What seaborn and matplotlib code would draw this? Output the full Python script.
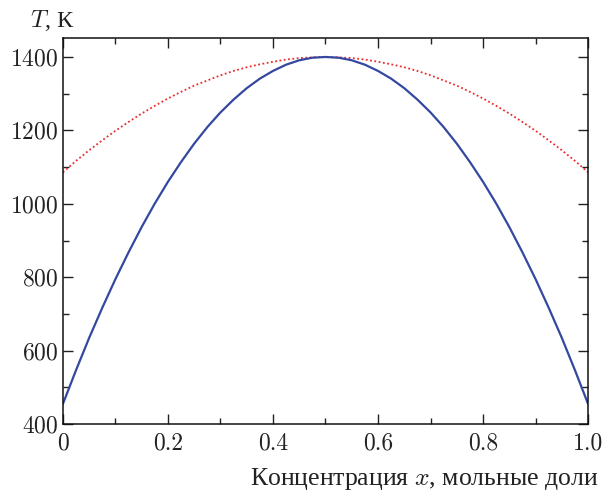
import numpy as np
import pandas as pd
import matplotlib
matplotlib.use("Agg")
import matplotlib.pyplot as plt
import seaborn as sns
from matplotlib.ticker import MultipleLocator

sns.set_style("ticks")
plt.rcParams['font.family'] = ['cmr10', 'Liberation Serif']
plt.rcParams['mathtext.fontset'] = 'cm'
plt.rcParams['axes.formatter.use_mathtext'] = True

x = [0.0, 0.025, 0.05, 0.075, 0.1, 0.125, 0.15, 0.175, 0.2, 0.225, 0.25,
     0.275, 0.3, 0.325, 0.35, 0.375, 0.4, 0.425, 0.45, 0.475, 0.5,
     0.525, 0.55, 0.575, 0.6, 0.625, 0.65, 0.675, 0.7, 0.725, 0.75,
     0.775, 0.8, 0.825, 0.85, 0.875, 0.9, 0.925, 0.95, 0.975, 1.0]
spinodal = [455, 547, 635, 717, 795, 868, 937, 1001, 1060, 1114, 1164,
            1209, 1249, 1284, 1315, 1341, 1362, 1379, 1391, 1398, 1400,
            1398, 1391, 1379, 1362, 1341, 1315, 1284, 1249, 1209, 1164,
            1114, 1060, 1001, 937, 868, 795, 717, 635, 547, 455]
binodal = [1086, 1117, 1146, 1173, 1199, 1223, 1246, 1267, 1287, 1305, 1322,
           1336, 1350, 1362, 1372, 1380, 1387, 1393, 1397, 1399, 1400,
           1399, 1397, 1393, 1387, 1380, 1372, 1362, 1350, 1336, 1322,
           1305, 1287, 1267, 1246, 1223, 1199, 1173, 1146, 1117, 1086]

df = pd.DataFrame({'x': x, 'spinodal': spinodal, 'binodal': binodal})

fig = plt.figure(figsize=(6.05, 4.92), dpi=100)
ax = fig.add_axes([0.104, 0.138, 0.868, 0.785])

sns.lineplot(data=df, x='x', y='binodal', ax=ax, color='#ee2a2a',
             linestyle=(0, (1, 1.4)), linewidth=1.3)
sns.lineplot(data=df, x='x', y='spinodal', ax=ax, color='#3448a0',
             linewidth=1.6)

ax.set_xlim(0, 1)
ax.set_ylim(400, 1452)
ax.xaxis.set_minor_locator(MultipleLocator(0.1))
ax.yaxis.set_major_locator(MultipleLocator(200))
ax.yaxis.set_minor_locator(MultipleLocator(100))
ax.set_xticks([0, 0.2, 0.4, 0.6, 0.8, 1.0])
ax.set_xticklabels(['0', '0.2', '0.4', '0.6', '0.8', '1.0'])
ax.tick_params(which='both', direction='in', top=True, right=True,
               labelsize=17, colors='#222222', width=1.0)
ax.tick_params(which='major', length=7)
ax.tick_params(which='minor', length=4)
ax.tick_params(axis='x', pad=6)
for s in ax.spines.values():
    s.set_linewidth(1.1)
    s.set_color('#111111')

ax.set_xlabel('')
ax.set_ylabel('')
fig.text(0.99, 0.014, 'Концентрация $x$, мольные доли', ha='right',
         va='baseline', fontsize=18.5, color='#222222',
         family=['Liberation Serif'])
fig.text(0.05, 0.945, '$T$, К', ha='left', va='baseline', fontsize=17.5,
         color='#222222', family=['Liberation Serif'])

fig.savefig('out.png', dpi=100)
